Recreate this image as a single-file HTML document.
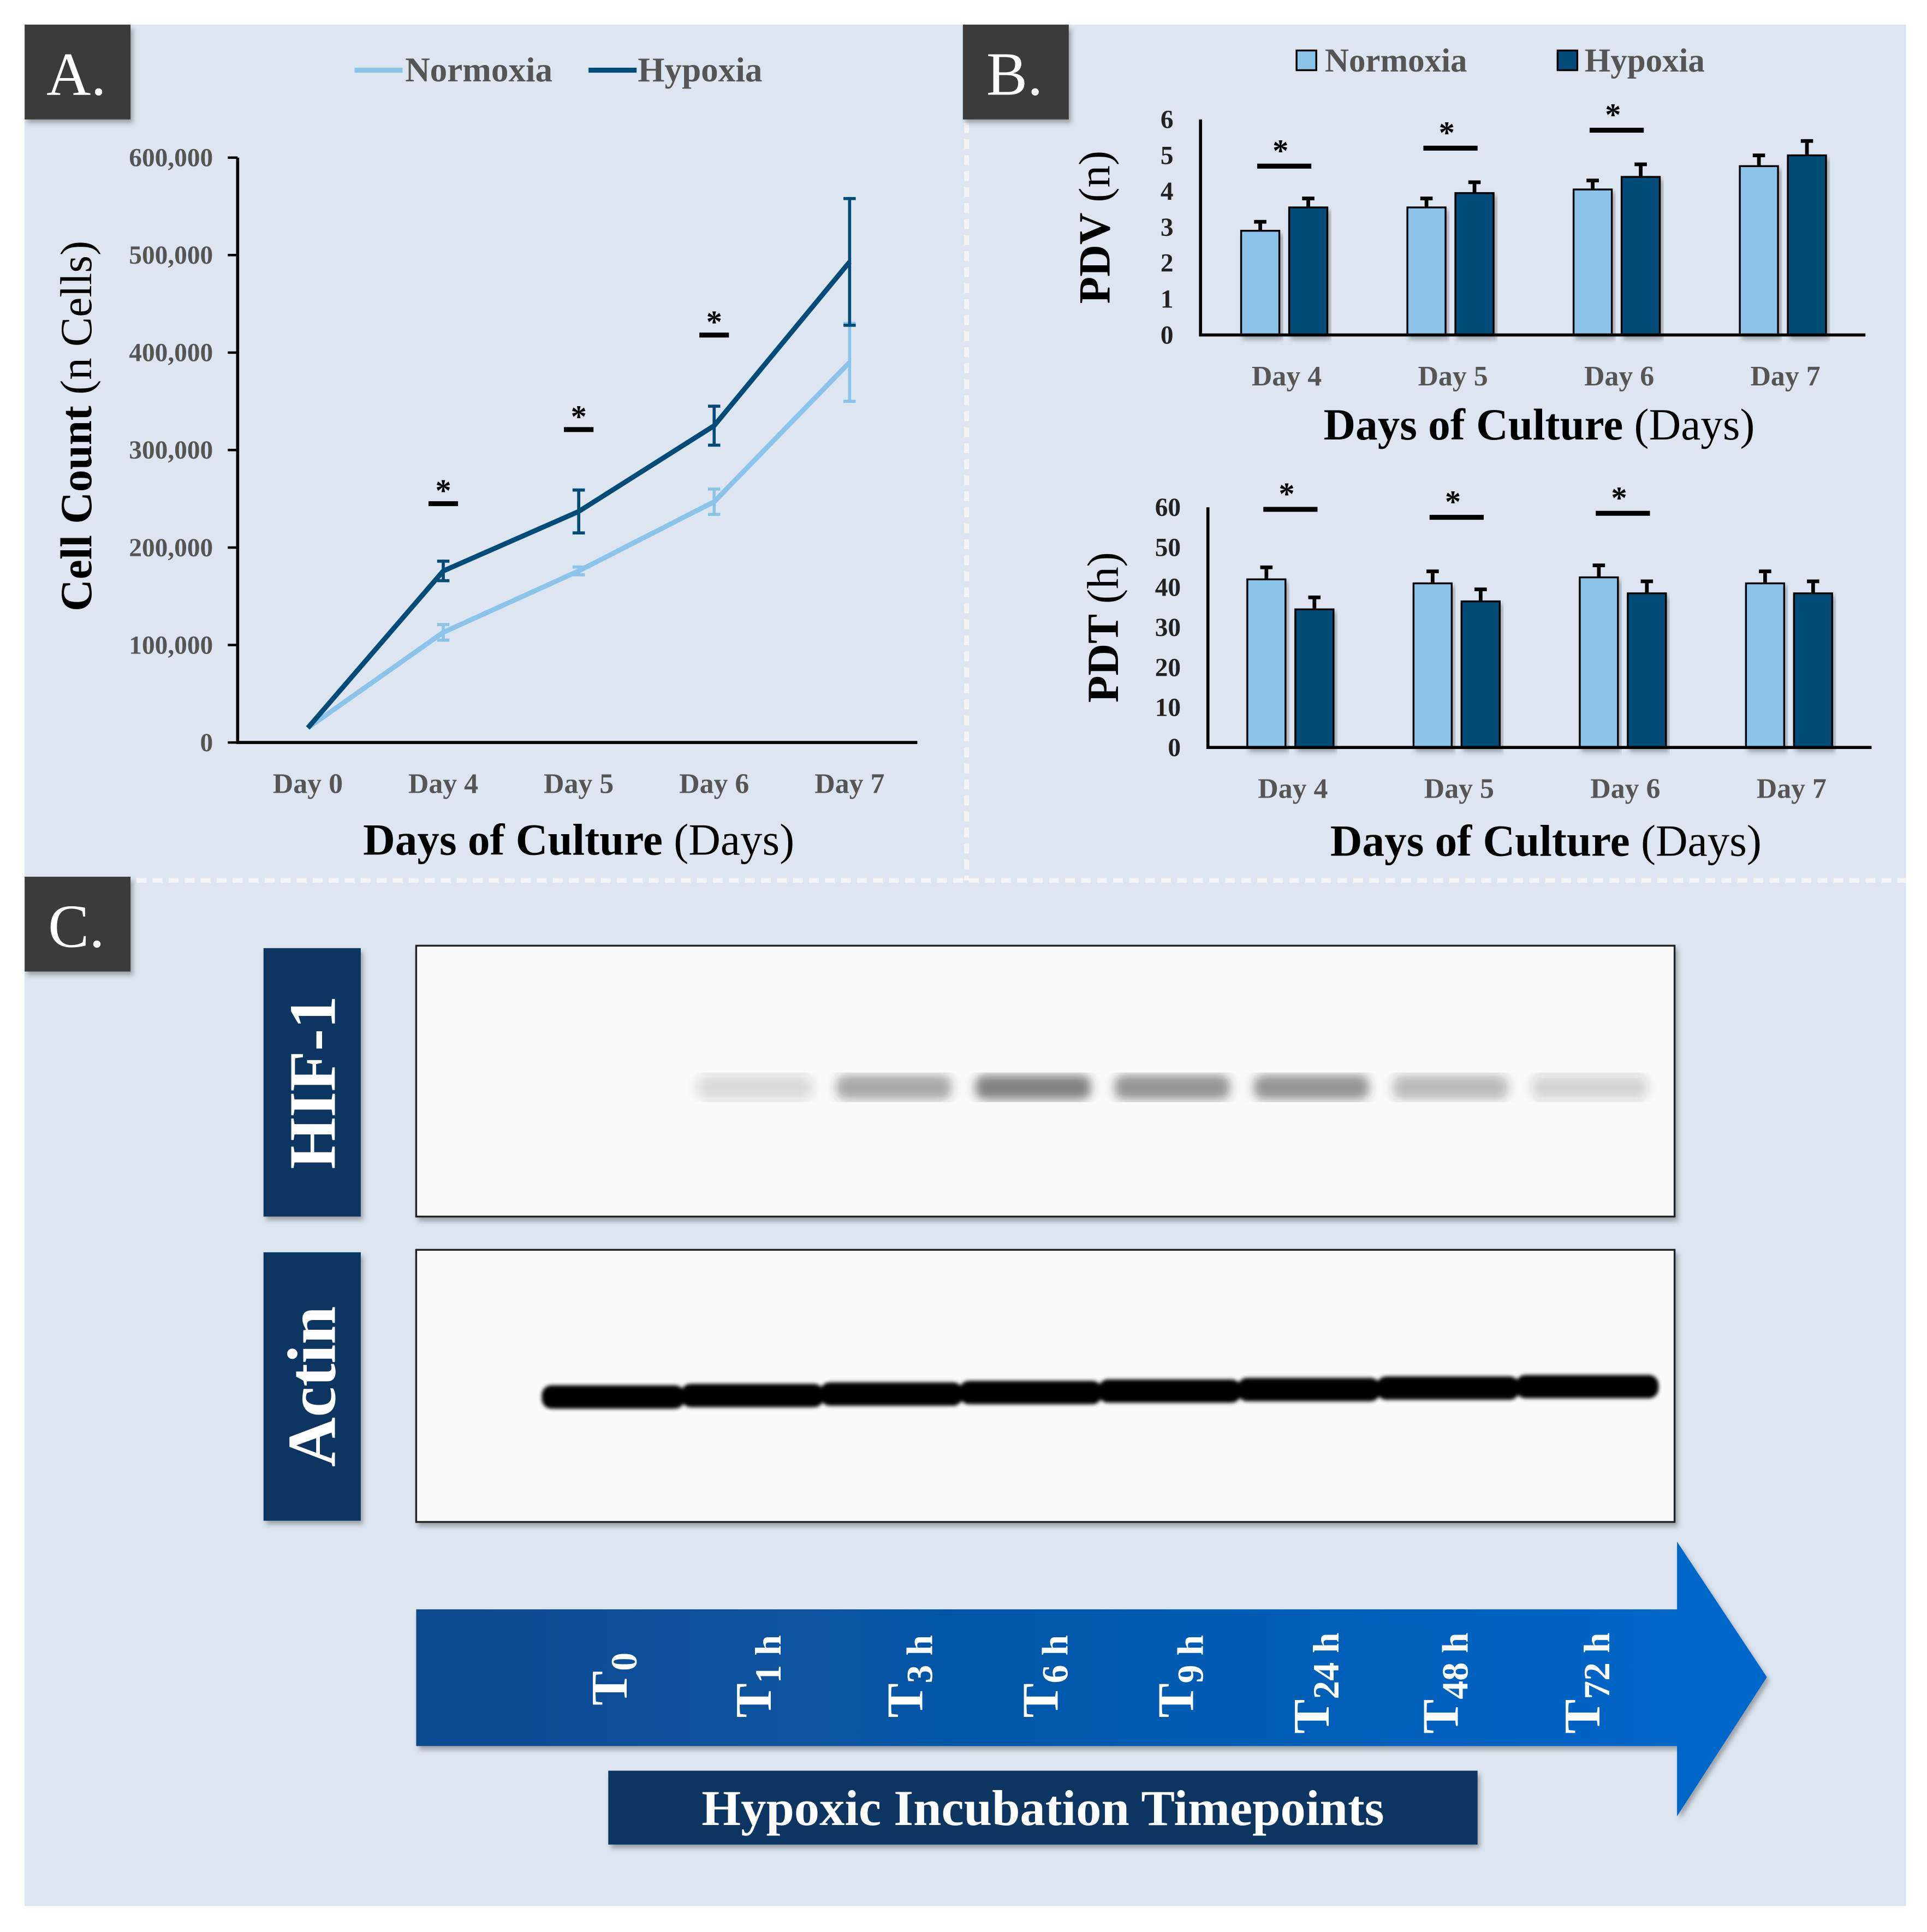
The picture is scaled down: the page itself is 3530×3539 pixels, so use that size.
<!DOCTYPE html>
<html><head><meta charset="utf-8">
<style>
html,body{margin:0;padding:0;background:#fff;}
svg{display:block;font-family:"Liberation Serif",serif;}
</style></head>
<body>
<svg id="fig" width="3530" height="3539" viewBox="0 0 1565 1569" xmlns="http://www.w3.org/2000/svg">
<defs>
<linearGradient id="arrowGrad" x1="0" y1="0" x2="1" y2="0">
<stop offset="0" stop-color="#0a4a8e"/><stop offset="1" stop-color="#0068cc"/>
</linearGradient>
<filter id="sh" x="-5%" y="-5%" width="115%" height="125%"><feDropShadow dx="2" dy="3" stdDeviation="2" flood-color="#000" flood-opacity="0.3"/></filter>
<filter id="blur2"><feGaussianBlur stdDeviation="4"/></filter>
<filter id="blur1"><feGaussianBlur stdDeviation="1.5"/></filter>
</defs>
<rect x="20" y="20" width="1528" height="1528" fill="#dde6f0"/>
<line x1="785" y1="22" x2="785" y2="715" stroke="#f4f4f4" stroke-width="4" stroke-dasharray="8,5"/>
<line x1="20" y1="715" x2="1548" y2="715" stroke="#f4f4f4" stroke-width="4" stroke-dasharray="8,5"/>

<g filter="url(#sh)"><rect x="20" y="20" width="86" height="77" fill="#3b3b3b"/><text x="62" y="77" fill="#fff" font-size="50" text-anchor="middle">A.</text></g>
<g filter="url(#sh)"><rect x="782" y="20" width="86" height="77" fill="#3b3b3b"/><text x="824" y="77" fill="#fff" font-size="50" text-anchor="middle">B.</text></g>
<g filter="url(#sh)"><rect x="20" y="712" width="86" height="77" fill="#3b3b3b"/><text x="62" y="769" fill="#fff" font-size="50" text-anchor="middle">C.</text></g>

<g id="chartA"></g>
<g id="chartPDV"></g>
<g id="chartPDT"></g>

<!-- Panel C -->
<g filter="url(#sh)"><rect x="214" y="770" width="79" height="218" fill="#0f3462"/><text transform="translate(272,879) rotate(-90)" fill="#fff" font-size="54" text-anchor="middle" font-weight="bold">HIF-1</text></g>
<g filter="url(#sh)"><rect x="214" y="1017" width="79" height="218" fill="#0f3462"/><text transform="translate(272,1126) rotate(-90)" fill="#fff" font-size="56" text-anchor="middle" font-weight="bold">Actin</text></g>
<g>
<rect x="338" y="768" width="1022" height="220" fill="#fafafa" stroke="#222" stroke-width="1.5" filter="url(#sh)"/>
<g id="hifBands" filter="url(#blur2)"></g>
</g>
<g>
<rect x="338" y="1015" width="1022" height="221" fill="#fafafa" stroke="#222" stroke-width="1.5" filter="url(#sh)"/>
<g id="actinBands" filter="url(#blur1)"></g>
</g>

<g filter="url(#sh)">
<polygon points="338,1307 1362,1307 1362,1252 1435,1362 1362,1475 1362,1418 338,1418" fill="url(#arrowGrad)"/>
</g>
<g id="tLabels" fill="#fff" font-weight="bold" font-size="42"></g>
<g filter="url(#sh)">
<rect x="494" y="1438" width="706" height="60" fill="#0f3462"/>
<text x="847" y="1482" fill="#fff" font-size="41" font-weight="bold" text-anchor="middle">Hypoxic Incubation Timepoints</text>
</g>
</svg>
<script>
const NS="http://www.w3.org/2000/svg";
function mk(parent,tag,attrs,txt){const e=document.createElementNS(NS,tag);for(const k in attrs)e.setAttribute(k,attrs[k]);if(txt!==undefined)e.textContent=txt;parent.appendChild(e);return e;}

// ---------- Panel A data ----------
const daysA=["Day 0","Day 4","Day 5","Day 6","Day 7"];
const normoxiaCount=[15000,113000,176000,247000,390000];
const normoxiaErr=[2000,8000,4000,13000,40000];
const hypoxiaCount=[15000,176000,237000,325000,493000];
const hypoxiaErr=[2000,10000,22000,20000,65000];
const sigA=[245000,321000,418000];
const yTicksA=[0,100000,200000,300000,400000,500000,600000];

// ---------- Panel B data ----------
const daysB=["Day 4","Day 5","Day 6","Day 7"];
const pdvNorm=[2.9,3.55,4.05,4.7];
const pdvNormErr=[0.25,0.25,0.25,0.3];
const pdvHyp=[3.55,3.95,4.4,5.0];
const pdvHypErr=[0.25,0.3,0.35,0.4];
const pdvSig=[4.7,5.2,5.7];
const pdvTicks=[0,1,2,3,4,5,6];
const pdtNorm=[42,41,42.5,41];
const pdtNormErr=[3,3,3,3];
const pdtHyp=[34.5,36.5,38.5,38.5];
const pdtHypErr=[3,3,3,3];
const pdtSig=[59.5,57.5,58.5];
const pdtTicks=[0,10,20,30,40,50,60];

// ---------- Blot data ----------
const timepoints=["0","1h","3h","6h","9h","24h","48h","72h"];
const hifIntensity=[0,0.15,0.4,0.6,0.5,0.5,0.3,0.18];
const actinIntensity=[1,1,1,1,1,1,1,1];

const LIGHT="#8cc3e8", DARK="#004b78";

// ---- Panel A ----
(function(){
const g=document.getElementById('chartA');
const x0=193,x1=745,yTop=128,yBot=603,yMax=600000;
const xA=i=>250+i*110;
const yA=v=>yBot-(v/yMax)*(yBot-yTop);
yTicksA.forEach(t=>{
 const tk=mk(g,'line',{x1:x0-8,x2:x0,y1:yA(t),y2:yA(t),stroke:'#000','stroke-width':2});
 
 
 const lb=mk(g,'text',{x:x0-20,y:yA(t)+7,'text-anchor':'end','font-size':21,'font-weight':'bold',fill:'#555'},t.toLocaleString('en-US'));
 
 
});
const ax=mk(g,'path',{d:`M${x0},${yTop} V${yBot} H${x1}`,fill:'none',stroke:'#000','stroke-width':2.5});


daysA.forEach((d,i)=>{
 const lb=mk(g,'text',{x:xA(i),y:644,'text-anchor':'middle','font-size':23,'font-weight':'bold',fill:'#555'},d);
 
 
});
function series(vals,errs,col,name){
 const p=mk(g,'polyline',{points:vals.map((v,i)=>xA(i)+','+yA(v)).join(' '),fill:'none',stroke:col,'stroke-width':4});
 
 
 vals.forEach((v,i)=>{ if(i===0)return;
  const e=mk(g,'path',{d:`M${xA(i)},${yA(v-errs[i])} V${yA(v+errs[i])} M${xA(i)-5},${yA(v-errs[i])} h10 M${xA(i)-5},${yA(v+errs[i])} h10`,stroke:col,'stroke-width':2.5,fill:'none'});
  
  
 });
}
series(normoxiaCount,normoxiaErr,LIGHT,'normoxia');
series(hypoxiaCount,hypoxiaErr,DARK,'hypoxia');
sigA.forEach((v,i)=>{
 const s=mk(g,'line',{x1:xA(i+1)-12,x2:xA(i+1)+12,y1:yA(v),y2:yA(v),stroke:'#000','stroke-width':4});
 
 
 const st=mk(g,'text',{x:xA(i+1),y:yA(v)-2,'text-anchor':'middle','font-size':26,'font-weight':'bold'},'*');
 
 
});
const lg=mk(g,'g',{});


mk(lg,'line',{x1:288,x2:327,y1:57,y2:57,stroke:LIGHT,'stroke-width':4});
mk(lg,'text',{x:329,y:66,'font-size':28,'font-weight':'bold',fill:'#555'},'Normoxia');
mk(lg,'line',{x1:478,x2:517,y1:57,y2:57,stroke:DARK,'stroke-width':4});
mk(lg,'text',{x:518,y:66,'font-size':28,'font-weight':'bold',fill:'#555'},'Hypoxia');
const yt=mk(g,'text',{transform:'translate(74,346) rotate(-90)','text-anchor':'middle','font-size':36},'');


mk(yt,'tspan',{'font-weight':'bold'},'Cell Count ');mk(yt,'tspan',{},'(n Cells)');
const xt=mk(g,'text',{x:470,y:694,'text-anchor':'middle','font-size':36},'');


mk(xt,'tspan',{'font-weight':'bold'},'Days of Culture ');mk(xt,'tspan',{},'(Days)');
})();

// ---- Panel B bar charts ----
function barChart(gid,cfg){
 const g=document.getElementById(gid);
 const {x0,x1,yTop,yBot,max,ticks,norm,normErr,hyp,hypErr,sig,c0,title,titleX,labY,xtY}=cfg;
 const yS=v=>yBot-(v/max)*(yBot-yTop);
 const cx=i=>c0+i*135;
 ticks.forEach(t=>{
  const lb=mk(g,'text',{x:x0-22,y:yS(t)+7,'text-anchor':'end','font-size':21,'font-weight':'bold',fill:'#222'},String(t));
  
  
 });
 function bar(i,v,e,col,name,off){
  const bx=cx(i)+off, w=31;
  const r=mk(g,'rect',{x:bx,y:yS(v),width:w,height:yBot-yS(v),fill:col,stroke:'#000','stroke-width':1.5,filter:'url(#sh)'});
  
  
  const m=bx+w/2;
  const eb=mk(g,'path',{d:`M${m},${yS(v)} V${yS(v+e)} M${m-5},${yS(v+e)} h10`,stroke:'#000','stroke-width':3,fill:'none'});
  
  
 }
 norm.forEach((v,i)=>bar(i,v,normErr[i],LIGHT,'normoxia',-35));
 hyp.forEach((v,i)=>bar(i,v,hypErr[i],DARK,'hypoxia',4));
 const ax=mk(g,'path',{d:`M${x0},${yTop} V${yBot} H${x1}`,fill:'none',stroke:'#000','stroke-width':2.5});
 
 
 sig.forEach((v,i)=>{
  const s=mk(g,'line',{x1:cx(i)-22,x2:cx(i)+22,y1:yS(v),y2:yS(v),stroke:'#000','stroke-width':4});
  
  
  const st=mk(g,'text',{x:cx(i)-3,y:yS(v)-4,'text-anchor':'middle','font-size':26,'font-weight':'bold'},'*');
  
  
 });
 daysB.forEach((d,i)=>{
  const lb=mk(g,'text',{x:cx(i)+2,y:labY,'text-anchor':'middle','font-size':23,'font-weight':'bold',fill:'#555'},d);
  
  
 });
 const yt=mk(g,'text',{transform:`translate(${titleX},${(yTop+yBot)/2}) rotate(-90)`,'text-anchor':'middle','font-size':36},'');
 
 
 mk(yt,'tspan',{'font-weight':'bold'},title[0]);mk(yt,'tspan',{},title[1]);
 const xt=mk(g,'text',{x:(x0+x1)/2+5,y:xtY,'text-anchor':'middle','font-size':36},'');
 
 
 mk(xt,'tspan',{'font-weight':'bold'},'Days of Culture ');mk(xt,'tspan',{},'(Days)');
}
barChart('chartPDV',{x0:975,x1:1515,yTop:97,yBot:272,max:6,ticks:pdvTicks,norm:pdvNorm,normErr:pdvNormErr,hyp:pdvHyp,hypErr:pdvHypErr,sig:pdvSig,c0:1043,title:['PDV ','(n)'],titleX:901,labY:313,xtY:357});
barChart('chartPDT',{x0:981,x1:1520,yTop:412,yBot:607,max:60,ticks:pdtTicks,norm:pdtNorm,normErr:pdtNormErr,hyp:pdtHyp,hypErr:pdtHypErr,sig:pdtSig,c0:1048,title:['PDT ','(h)'],titleX:908,labY:648,xtY:695});
(function(){
 const g=document.getElementById('chartPDV');
 const lg=mk(g,'g',{});
 
 
 mk(lg,'rect',{x:1053,y:41,width:16,height:16,fill:LIGHT,stroke:'#000','stroke-width':1.5});
 mk(lg,'text',{x:1076,y:58,'font-size':27,'font-weight':'bold',fill:'#555'},'Normoxia');
 mk(lg,'rect',{x:1265,y:41,width:16,height:16,fill:DARK,stroke:'#000','stroke-width':1.5});
 mk(lg,'text',{x:1287,y:58,'font-size':27,'font-weight':'bold',fill:'#555'},'Hypoxia');
})();

// ---- Blots & timepoint labels ----
(function(){
 const lane=i=>500+i*113;
 const hb=document.getElementById('hifBands');
 hifIntensity.forEach((v,i)=>{
  if(v<=0)return;
  const b=mk(hb,'rect',{x:lane(i)-47,y:873,width:94,height:20,rx:8,fill:'#333','fill-opacity':v});
  
  
 });
 const ab=document.getElementById('actinBands');
 actinIntensity.forEach((v,i)=>{
  const b=mk(ab,'rect',{x:lane(i)-60,y:1125-i*1.2,width:116,height:19,rx:8,fill:'#000','fill-opacity':v});
  
  
 });
 const tl=document.getElementById('tLabels');
 const tx=[495,612,735,845,955,1065,1170,1285];
 timepoints.forEach((t,i)=>{
  const y=i===0?1385:(t.length>2?1408:1395);
  const el=mk(tl,'text',{transform:`translate(${tx[i]+14},${y}) rotate(-90)`},'');
  
  
  mk(el,'tspan',{},'T');
  mk(el,'tspan',{'font-size':30,dy:8},t.replace('h',' h'));
 });
})();
</script>
</body></html>
